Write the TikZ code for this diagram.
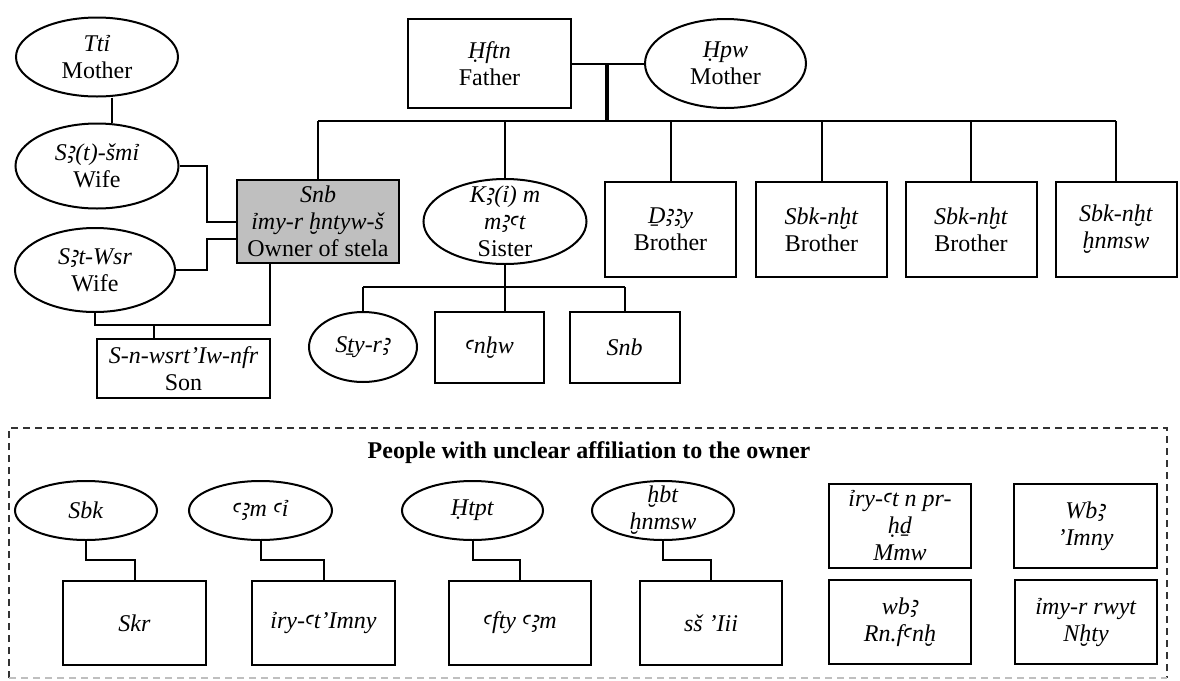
\documentclass[tikz,border=0pt]{standalone}
\usepackage{fontspec}
\usepackage{graphicx}
\setmainfont{Liberation Serif}
\newfontfamily\egyfont{Noto Sans}
\newcommand{\alef}{{\egyfont\itshape\raisebox{-0.25ex}{\scalebox{1.2}{ꜣ}}}}
\newcommand{\ayin}{{\egyfont\itshape ꜥ}}
\usetikzlibrary{shapes.geometric,calc}

\begin{document}
\begin{tikzpicture}[x=0.5pt,y=-0.5pt,
        every node/.style={font=\fontsize{12}{13.5}\selectfont, align=center, inner sep=0pt},
        oval/.style={ellipse, draw, line width=1pt},
        box/.style={rectangle, draw, line width=1pt},
        link/.style={line width=1pt}]
        \useasboundingbox (0,0) rectangle (1180,681);

        % family of the owner
        \node[oval, minimum width=81pt, minimum height=39.5pt] (tti) at (97,57) {\textit{Ttỉ}\\Mother};
        \node[oval, minimum width=81.5pt, minimum height=42.5pt] (wifea) at (97,166) {\textit{S\alef(t)-šmỉ}\\Wife};
        \node[oval, minimum width=80pt, minimum height=42pt] (wifeb) at (95,270) {\textit{S\alef t-Wsr}\\Wife};
        \node[box, fill=black!25, minimum width=81pt, minimum height=41.5pt] (owner) at (318,221.5) {\textit{Snb}\\\textit{ỉmy-r ḫntyw-š}\\Owner of stela};
        \node[box, minimum width=86.5pt, minimum height=29.5pt] (son) at (183.5,368.5) {\textit{S-n-wsrt’Iw-nfr}\\Son};

        \node[box, minimum width=81.5pt, minimum height=44.5pt] (father) at (489.5,63.5) {\textit{Ḥftn}\\Father};
        \node[oval, minimum width=80.5pt, minimum height=44.5pt] (mother) at (725.5,63.5) {\textit{Ḥpw}\\Mother};

        \node[oval, minimum width=81.5pt, minimum height=42.5pt, inner ysep=-5.5pt] (sister) at (505,221.5) {\textit{K\alef(ỉ) m}\\\textit{m\alef\ayin t}\\Sister};
        \node[box, minimum width=65.5pt, minimum height=47.5pt] (bra) at (670.5,229.5) {\textit{Ḏ\alef\alef y}\\Brother};
        \node[box, minimum width=65.5pt, minimum height=47.5pt] (brb) at (821.5,229.5) {\textit{Sbk-nḫt}\\Brother};
        \node[box, minimum width=65.5pt, minimum height=47.5pt] (brc) at (971,229.5) {\textit{Sbk-nḫt}\\Brother};
        \node[box, minimum width=60.5pt, minimum height=47.5pt] (brd) at (1116,229.5) {\textit{Sbk-nḫt}\\\textit{ḫnmsw}};

        \node[oval, minimum width=54pt, minimum height=35pt] (styr) at (363,347) {\textit{Sṯy-r\alef}};
        \node[box, minimum width=54.5pt, minimum height=35.5pt] (anhw) at (489.5,347.5) {\textit{\ayin nḫw}};
        \node[box, minimum width=55pt, minimum height=35.5pt] (snbb) at (624.5,347.5) {\textit{Snb}};

        \draw[link] ([xshift=7.5pt]tti.south) -- ([xshift=7.5pt]wifea.north);
        \draw[link] (wifea.east) -| ([xshift=-14.5pt]owner.west) -- (owner.west);
        \draw[link] (wifeb.east) -| ([xshift=-14.5pt,yshift=-8.75pt]owner.west) -- ([yshift=-8.75pt]owner.west);
        \draw[link] (wifeb.south) -- (wifeb.south |- 0,325) -| ([xshift=-24pt]owner.south);
        \coordinate (sonbar) at (154,325);
        \draw[link] (sonbar) -- (sonbar |- son.north);

        \draw[link] (father.east) -- (mother.west);
        \coordinate (marr) at ($(father.east)!0.486!(mother.west)$);
        \coordinate (sib) at (607,121);
        \draw[line width=1.8pt] (marr) -- (sib);
        \draw[link] (owner.north |- sib) -- (brd.north |- sib);
        \foreach \n in {owner,sister,bra,brb,brc,brd}
            \draw[link] (\n.north) -- (\n.north |- sib);

        \coordinate (kid) at (0,287);
        \draw[link] (sister.south) -- (sister.south |- anhw.north);
        \draw[link] (styr.north |- kid) -- (snbb.north |- kid);
        \draw[link] (styr.north) -- (styr.north |- kid);
        \draw[link] (snbb.north) -- (snbb.north |- kid);

        % people with unclear affiliation
        \draw[black!80, line width=0.8pt, dash pattern=on 3.5pt off 2.5pt] (9,678) -- (9,428) -- (1167,428) -- (1167,678);
        \draw[black!25, line width=0.8pt, dash pattern=on 3.5pt off 2.5pt] (9,678) -- (1167,678);
        \node[font=\fontsize{12}{13}\selectfont\bfseries] (title) at (589,453) {People with unclear affiliation to the owner};

        \node[oval, minimum width=71pt, minimum height=29.5pt] (sbk) at (86,510.5) {\textit{Sbk}};
        \node[oval, minimum width=71.5pt, minimum height=29.5pt] (aam) at (260.5,510.5) {\textit{\ayin\alef m \ayin ỉ}};
        \node[oval, minimum width=70.5pt, minimum height=29.5pt] (htpt) at (472.5,510.5) {\textit{Ḥtpt}};
        \node[oval, minimum width=71pt, minimum height=29.5pt, inner ysep=-3.5pt] (hbt) at (663,510.5) {\textit{ḫbt}\\\textit{ḫnmsw}};

        \node[box, minimum width=71.5pt, minimum height=42pt] (skr) at (134.5,623) {\textit{Skr}};
        \node[box, minimum width=71.5pt, minimum height=42pt] (iryat) at (323.5,623) {\textit{ỉry-\ayin t’Imny}};
        \node[box, minimum width=71pt, minimum height=42pt] (afty) at (520,623) {\textit{\ayin fty \ayin\alef m}};
        \node[box, minimum width=71pt, minimum height=42pt] (ssii) at (711,623) {\textit{sš ’Iii}};

        \foreach \a/\b in {sbk/skr,aam/iryat,htpt/afty,hbt/ssii}
            \draw[link] (\a.south) -- (\a.south |- 0,560) -| (\b.north);

        \node[box, minimum width=71pt, minimum height=42pt] (mmw) at (900,526) {\textit{ỉry-\ayin t n pr-}\\\textit{ḥḏ}\\\textit{Mmw}};
        \node[box, minimum width=71.5pt, minimum height=42pt] (wbimny) at (1085.5,526) {\textit{Wb\alef}\\\textit{’Imny}};
        \node[box, minimum width=71pt, minimum height=42pt] (rnf) at (900,622) {\textit{wb\alef}\\\textit{Rn.f\ayin nḫ}};
        \node[box, minimum width=71pt, minimum height=42pt] (nhty) at (1086,622) {\textit{ỉmy-r rwyt}\\\textit{Nḫty}};
\end{tikzpicture}
\end{document}
